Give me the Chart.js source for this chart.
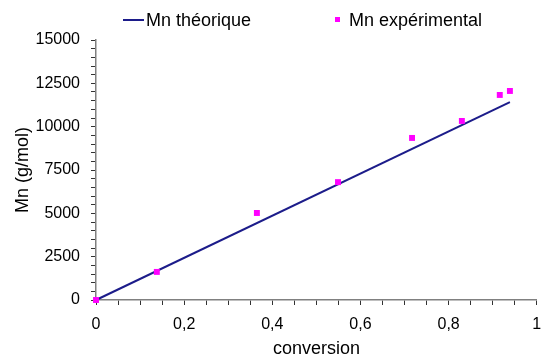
<!DOCTYPE html>
<html>
<head>
<meta charset="utf-8">
<script src="https://cdn.jsdelivr.net/npm/chart.js@4"></script>
<style>
  html, body { margin: 0; padding: 0; background: #fff; }
  #wrap { width: 541px; height: 359px; }
</style>
</head>
<body>
<div id="wrap"><canvas id="mnChart"></canvas></div>
<script>
// Données
const conversion = [0, 0.138, 0.365, 0.549, 0.717, 0.830, 0.916, 0.939];
const mnExperimental = [0, 1620, 5020, 6800, 9350, 10330, 11830, 12060];
const theoConversion = [0, 0.939];
const mnTheorique = [0, 11420];
const seriesLabels = ['Mn théorique', 'Mn expérimental'];

const navy = '#1c1c8a';
const magenta = '#ff00ff';
const axisColor = '#808080';
const tickFont = { family: 'Liberation Sans, Arial, sans-serif', size: 16 };
const titleFont = { family: 'Liberation Sans, Arial, sans-serif', size: 18 };

// Légende dessinée à la main (espacement comme l'original)
const legendPlugin = {
    id: 'customLegend',
    afterDraw(chart) {
        const ctx = chart.ctx;
        ctx.save();
        ctx.font = '18px Liberation Sans, Arial, sans-serif';
        ctx.fillStyle = '#000';
        ctx.textBaseline = 'middle';
        // ligne
        ctx.strokeStyle = navy;
        ctx.lineWidth = 2;
        ctx.beginPath();
        ctx.moveTo(123, 20);
        ctx.lineTo(144, 20);
        ctx.stroke();
        ctx.fillText(seriesLabels[0], 146, 21);
        // marqueur
        ctx.fillStyle = magenta;
        ctx.fillRect(335, 17, 5, 5);
        ctx.fillStyle = '#000';
        ctx.fillText(seriesLabels[1], 349, 21);
        ctx.restore();
    }
};

const data = {
    datasets: [
        {
            label: seriesLabels[1],
            data: conversion.map((c, i) => ({ x: c, y: mnExperimental[i] })),
            showLine: false,
            pointStyle: 'rect',
            pointRadius: 4.2,
            pointBackgroundColor: magenta,
            pointBorderWidth: 0,
            clip: false,
            order: 0
        },
        {
            label: seriesLabels[0],
            data: theoConversion.map((c, i) => ({ x: c, y: mnTheorique[i] })),
            showLine: true,
            borderColor: navy,
            borderWidth: 2,
            pointRadius: 0,
            clip: false,
            order: 1
        }
    ]
};

new Chart(document.getElementById('mnChart'), {
    type: 'scatter',
    data: data,
    plugins: [legendPlugin],
    options: {
        responsive: true,
        maintainAspectRatio: false,
        animation: false,
        layout: { padding: { top: 40, right: 4, left: 0, bottom: 0 } },
        plugins: { legend: { display: false }, tooltip: { enabled: false } },
        scales: {
            x: {
                type: 'linear',
                min: 0,
                max: 1,
                afterFit: s => { s.height = 59; s.paddingRight = 0; s.paddingLeft = 0; },
                border: { color: axisColor, width: 1.5 },
                grid: { drawOnChartArea: false, tickLength: 5, color: '#333' },
                ticks: {
                    stepSize: 0.05,
                    autoSkip: false,
                    maxRotation: 0,
                    padding: 10,
                    color: '#000',
                    font: tickFont,
                    callback: v => {
                        const k = Math.round(v * 100);
                        if (k % 20 !== 0) return '';
                        return (k / 100).toString().replace('.', ',');
                    }
                },
                title: { display: true, text: 'conversion', color: '#000', font: titleFont, padding: { top: 0, bottom: -1 } }
            },
            y: {
                type: 'linear',
                min: 0,
                max: 15000,
                afterFit: s => { s.width = 96; },
                border: { color: axisColor, width: 1.5 },
                grid: { drawOnChartArea: false, tickLength: 5, color: '#333' },
                ticks: {
                    stepSize: 500,
                    autoSkip: false,
                    padding: 11,
                    color: '#000',
                    font: tickFont,
                    callback: v => (v % 2500 === 0 ? String(v) : '')
                },
                title: { display: true, text: 'Mn (g/mol)', color: '#000', font: titleFont, padding: { top: 12, bottom: 0 } }
            }
        }
    }
});
</script>
</body>
</html>
